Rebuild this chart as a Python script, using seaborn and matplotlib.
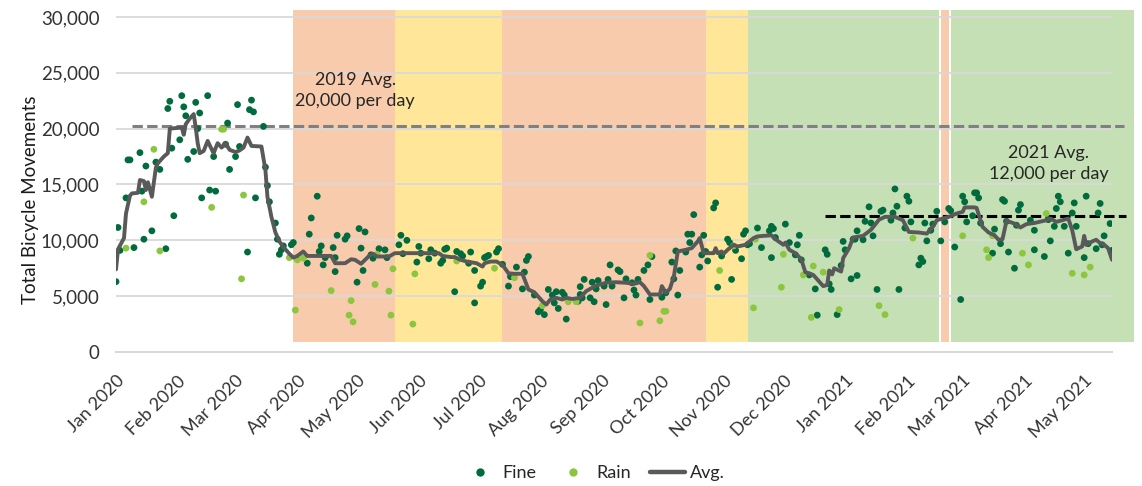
import pandas as pd
import matplotlib
matplotlib.use("Agg")
import matplotlib.pyplot as plt
import matplotlib.dates as mdates
from matplotlib.lines import Line2D
from matplotlib.ticker import FuncFormatter
import seaborn as sns

start = pd.Timestamp("2020-01-01")

# daily totals, as days since 1 Jan 2020
fine_day = [0, 1, 2, 5, 6, 7, 9, 12, 13, 14, 15, 18, 20, 22, 25, 26, 27, 28, 29, 32, 33, 34, 35, 36, 39, 40, 41, 42, 43, 46, 47, 49, 50, 55, 56, 57, 60, 61, 62, 66, 67, 68, 69, 70,
            74, 75, 76, 77, 80, 81, 82, 83, 84, 88, 89, 96, 97, 98, 101, 102, 103, 104, 105, 109, 110, 110, 111, 115, 116, 121, 122, 123, 124, 125, 128, 129, 132, 135, 136, 142, 143, 144, 146,
            151, 152, 153, 157, 158, 160, 163, 164, 165, 166, 170, 171, 173, 174, 177, 178, 180, 180, 183, 184, 185, 186, 187, 191, 192, 194, 197, 198, 201, 204, 205, 206, 207, 210, 212, 213, 215, 217,
            219, 220, 221, 222, 224, 225, 226, 232, 233, 233, 234, 235, 238, 239, 240, 241, 242, 245, 246, 247, 248, 249, 252, 253, 255, 256, 259, 260, 261, 262, 265, 267, 268, 269, 274, 276, 279, 280, 281, 282, 283, 286, 287, 288,
            289, 290, 293, 294, 295, 296, 297, 300, 301, 302, 304, 307, 308, 309, 311, 314, 315, 316, 317, 318, 322, 324, 328, 329, 329, 330, 331, 336, 338, 341, 342, 343, 344, 348, 351, 352, 356, 357, 358, 359,
            362, 364, 365, 366, 369, 370, 371, 372, 372, 375, 376, 378, 379, 380, 382, 384, 385, 389, 390, 391, 392, 393, 396, 397, 398, 399, 403, 404, 405, 406, 407, 409, 410, 412, 414, 416, 418, 419, 421, 424, 425, 426, 427, 430, 431,
            432, 433, 434, 440, 441, 444, 445, 446, 447, 448, 451, 452, 453, 454, 459, 461, 461, 466, 468, 469, 471, 472, 473, 474, 476, 478, 480, 481, 482, 486, 487, 488, 492, 493, 494, 495, 496, 499, 500]
fine_val = [6300, 11150, 9100, 13800, 17200, 17200, 9350, 17850, 14400, 10100, 16650, 10850, 17000, 16350, 9250, 21800, 22450, 18250, 12200, 19000, 22950, 21950, 21150, 17250, 17950, 22350, 20000, 21400, 13800, 22950, 14500, 17500, 14400, 18600, 20500, 16350, 17500, 22150, 18400, 8950, 21700, 22550, 21500, 13800,
            20200, 16550, 14900, 13450, 11550, 10100, 8750, 9150, 9500, 9600, 9800, 7950, 10550, 12000, 13950, 9000, 9500, 7800, 8450, 9350, 8450, 7200, 10450, 10100, 10400, 6250, 11050, 9300, 7300, 10750, 8700, 8400, 9250, 9150, 8450, 9600, 10450, 8800, 10000,
            8050, 9450, 8850, 8350, 9150, 8850, 7950, 8200, 9200, 9300, 5400, 9000, 8800, 8600, 7950, 8950, 7300, 4400, 5900, 6250, 8450, 8550, 8650, 8950, 9250, 7850, 5900, 6750, 7600, 5650, 7150, 8200, 8550, 5100, 3600, 3800, 3350, 5600,
            5100, 4400, 5400, 3900, 5350, 5100, 2950, 4550, 5850, 5150, 4850, 6500, 4850, 6250, 4500, 5650, 6400, 5900, 4250, 6500, 7800, 5900, 7350, 7200, 4850, 6550, 6200, 5550, 5100, 6500, 7300, 7800, 4700, 8550, 4900, 5300, 8050, 6550, 9050, 5100, 7300, 8950, 10550, 9800,
            10550, 12300, 7600, 8700, 10450, 9000, 8150, 12900, 13350, 5800, 8600, 10100, 9800, 6500, 9100, 8350, 10550, 10850, 9600, 9700, 11100, 9350, 10850, 8450, 11250, 11050, 10250, 11450, 9800, 8700, 9600, 10450, 8250, 6900, 5650, 3300, 9150, 8750, 6100, 5600,
            3350, 7750, 9900, 9150, 6550, 10100, 10100, 10850, 6850, 10050, 11700, 13000, 11550, 10400, 5600, 12600, 12700, 11800, 12450, 14600, 13050, 5600, 11100, 13950, 13500, 11650, 7800, 8400, 8100, 11550, 9950, 10900, 11450, 12600, 9950, 11650, 12850, 12650, 9400, 4700, 13950, 13450, 11650, 12200, 14250,
            14250, 13800, 11550, 8850, 11000, 9700, 13650, 13500, 11700, 8950, 7500, 11350, 12700, 13200, 11800, 10900, 9150, 8550, 11850, 9950, 11250, 12850, 13950, 13450, 11250, 8850, 12450, 13350, 11250, 8450, 13950, 9700, 9250, 12450, 13300, 9600, 10400, 11500, 9100]

rain_day = [5, 14, 19, 22, 48, 53, 54, 63, 64, 87, 90, 91, 94, 108, 117, 118, 119, 130, 131, 137, 138, 139, 149, 150, 171, 190, 200, 214, 227, 231,
            263, 268, 273, 275, 276, 303, 310, 320, 321, 334, 335, 345, 349, 350, 355, 363, 383, 386, 400, 425, 437, 438, 440, 455, 458, 467, 480, 486, 489]
rain_val = [9300, 13450, 18150, 9050, 12950, 19950, 19950, 6550, 14050, 8450, 3750, 8250, 8400, 5500, 3300, 4600, 2700, 6050, 8750, 5450, 3300, 7450, 2500, 7000, 8150, 7500, 6650, 4150, 4500, 4500,
            2600, 8650, 2800, 3650, 3650, 7300, 9500, 3950, 10100, 5800, 8750, 6900, 3100, 7700, 7150, 3800, 4150, 3350, 10200, 10400, 9150, 8450, 10400, 8850, 7800, 12400, 7050, 6900, 7600]

# rolling average line, vertices
avg_day = [0, 1, 4, 5, 7, 8, 11, 12, 14, 15, 16, 18, 20, 21, 24, 26, 27, 33, 34, 35, 37, 39, 40, 41, 42, 44, 46, 48, 49, 51, 53, 55, 57, 60, 62, 64, 66, 68, 73,
           75, 76, 78, 80, 82, 84, 87, 89, 91, 94, 96, 108, 110, 115, 118, 120, 123, 127, 129, 131, 137, 140, 152, 162, 164, 168, 170, 173, 176, 181, 184, 185, 188, 191, 194, 197, 200, 204, 207, 210,
           214, 216, 218, 221, 224, 226, 229, 233, 236, 241, 246, 251, 256, 260, 263, 265, 268, 273, 274, 276, 278, 280, 282, 286, 289, 292, 293, 295, 300, 301, 302, 304, 305, 307, 310, 312, 316,
           320, 322, 325, 329, 331, 335, 336, 338, 341, 344, 346, 350, 355, 357, 358, 359.5, 360.5, 364, 365, 368, 370, 375, 379, 383, 386, 391, 395, 398, 403, 407, 410, 412, 415, 418, 422, 425, 426, 431,
           432, 435, 438, 441, 443, 445, 447, 451, 454, 457, 461, 467, 469, 472, 475, 478, 480, 482, 485, 486, 487, 490, 492, 494, 496, 498, 500]
avg_val = [7400, 9200, 10200, 12400, 14000, 14200, 14250, 15400, 15300, 14500, 15200, 13900, 16500, 16900, 17500, 17800, 20000, 20100, 19450, 20400, 20900, 21300, 20100, 18700, 17800, 18000, 18900, 18150, 17800, 18700, 18300, 18700, 18100, 17900, 18050, 18300, 19200, 18450, 18400,
           16300, 13900, 12100, 10700, 9900, 9400, 8800, 8450, 8600, 9000, 8600, 8600, 7950, 7950, 8300, 8250, 7900, 8600, 8800, 8550, 8550, 8850, 8850, 8850, 8600, 8500, 8500, 8250, 8100, 7950, 7650, 7950, 8100, 8100, 7800, 7050, 7000, 7000, 5600, 5350,
           4550, 4250, 4700, 4850, 4700, 4850, 4750, 4850, 5450, 5950, 6200, 6250, 6200, 6100, 6250, 5900, 5150, 5150, 5900, 5300, 5650, 6750, 9000, 9150, 9300, 9900, 10200, 8850, 8850, 9300, 8850, 9000, 8800, 9150, 9600, 9450, 9600,
           10200, 10350, 10400, 10450, 10100, 9600, 9800, 9150, 8850, 8300, 7150, 6900, 5900, 6000, 7300, 6950, 7500, 7200, 8400, 9300, 10250, 10400, 10950, 11850, 12100, 12100, 11800, 10750, 10700, 10600, 11200, 11800, 11950, 12100, 12400, 12550, 12950, 12950,
           12900, 11200, 10700, 10450, 10050, 10100, 11750, 11500, 11150, 11450, 11550, 11800, 11950, 11650, 11800, 11950, 10900, 9200, 9450, 10400, 9600, 9900, 10050, 9750, 9600, 9300, 8250]

# restriction phases behind the data
phase_start = ["2020-03-30", "2020-05-20", "2020-07-13", "2020-10-23", "2020-11-13", "2021-02-18", "2021-02-23"]
phase_end = ["2020-05-20", "2020-07-13", "2020-10-23", "2020-11-13", "2021-02-17", "2021-02-22", "2021-05-26"]
phase_level = ["high", "medium", "high", "medium", "low", "high", "low"]

avg_2019 = 20200
avg_2019_span = ["2020-01-09", "2021-05-21"]
avg_2021 = 12200
avg_2021_span = ["2020-12-22", "2021-05-22"]

sns.set_style("white")
plt.rcParams['font.family'] = ['Lato', 'DejaVu Sans']

fig = plt.figure(figsize=(11.42, 4.86), dpi=100)
ax = fig.add_axes([0.1016, 0.2757, 0.8722, 0.7037])
ymax = 30620

level_colors = {"high": "#F8CBAD", "medium": "#FFE699", "low": "#C5E0B4"}
for s, e, lv in zip(phase_start, phase_end, phase_level):
    ax.axvspan(pd.Timestamp(s), pd.Timestamp(e), ymin=900 / ymax, ymax=1,
               color=level_colors[lv], lw=0, zorder=0, clip_on=False)

pts = pd.concat([
    pd.DataFrame({"day": fine_day, "count": fine_val, "weather": "Fine"}),
    pd.DataFrame({"day": rain_day, "count": rain_val, "weather": "Rain"}),
])
pts["date"] = start + pd.to_timedelta(pts["day"], unit="D")
avg = pd.DataFrame({"date": start + pd.to_timedelta(avg_day, unit="D"), "count": avg_val})

dark, light, grey = "#006B3C", "#8CC63F", "#595959"

ax.hlines(avg_2019, pd.Timestamp(avg_2019_span[0]), pd.Timestamp(avg_2019_span[1]),
          colors="#808080", lw=2.2, linestyles=(0, (3.4, 1.4)), zorder=2, clip_on=False)
ax.hlines(avg_2021, pd.Timestamp(avg_2021_span[0]), pd.Timestamp(avg_2021_span[1]),
          colors="black", lw=2.2, linestyles=(0, (3.4, 1.4)), zorder=2, clip_on=False)

sns.scatterplot(data=pts, x="date", y="count", hue="weather", palette={"Fine": dark, "Rain": light},
                s=24, linewidth=0, legend=False, zorder=3, ax=ax)
sns.lineplot(data=avg, x="date", y="count", color=grey, lw=2.8, estimator=None, sort=False, zorder=4, ax=ax)

ax.text(pd.Timestamp("2020-04-30"), 23400, "2019 Avg.\n20,000 per day", ha="center", va="center",
        fontsize=13, color="#262626", linespacing=1.35)
ax.text(pd.Timestamp("2021-04-13"), 16900, "2021 Avg.\n12,000 per day", ha="center", va="center",
        fontsize=13, color="#262626", linespacing=1.35)

ax.set_xlim(start, pd.Timestamp("2021-05-15"))
ax.set_ylim(0, ymax)
ax.set_yticks(range(0, 30001, 5000))
ax.yaxis.set_major_formatter(FuncFormatter(lambda v, p: f"{v:,.0f}"))
ax.xaxis.set_major_locator(mdates.MonthLocator())
ax.xaxis.set_major_formatter(mdates.DateFormatter("%b %Y"))
ax.yaxis.grid(True, color="#D9D9D9", lw=1.3)
ax.set_axisbelow(True)
for side in ["left", "right", "top"]:
    ax.spines[side].set_visible(False)
ax.spines["bottom"].set_color("#D9D9D9")
ax.spines["bottom"].set_linewidth(1.5)
ax.tick_params(axis="x", length=4, width=1.2, color="#D9D9D9", pad=11, labelsize=13, labelcolor="#333333")
ax.tick_params(axis="y", length=0, pad=12, labelsize=13.5, labelcolor="#333333")
plt.setp(ax.get_xticklabels(), rotation=45, ha="right", rotation_mode="anchor")
ax.set_xlabel("")
ax.set_ylabel("Total Bicycle Movements", fontsize=13.5, color="#1a1a1a")
ax.yaxis.set_label_coords(-0.077, 0.446)

handles = [Line2D([], [], marker="o", ls="", color=dark, markersize=5),
           Line2D([], [], marker="o", ls="", color=light, markersize=5),
           Line2D([], [], color=grey, lw=3.2)]
fig.legend(handles, ["Fine", "Rain", "Avg."], loc="center", bbox_to_anchor=(0.52, 0.026), ncol=3,
           frameon=False, fontsize=13, handlelength=1.9, handletextpad=0.3, columnspacing=1.1)

fig.savefig("out.png", dpi=100)
